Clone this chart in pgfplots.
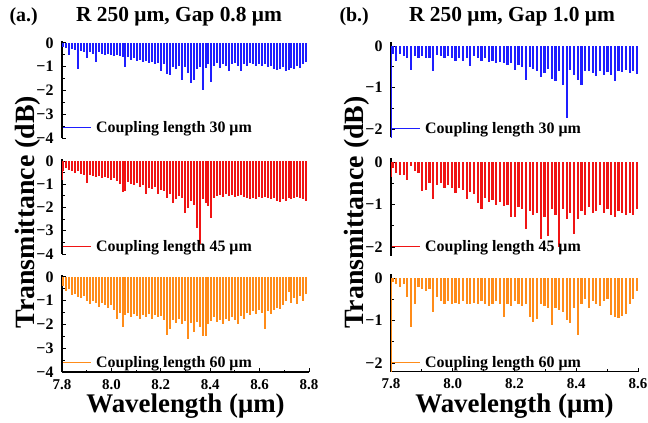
\documentclass[border=0pt]{standalone}
\usepackage{fontspec}
\setmainfont{Liberation Serif}
\usepackage{pgfplots}
\pgfplotsset{compat=1.18}
\definecolor{cblue}{RGB}{30,30,255}
\definecolor{cred}{RGB}{240,20,20}
\definecolor{corange}{RGB}{255,140,25}
\pgfplotsset{
  panel/.style={scale only axis, width=247bp, xmin=7.8,
    axis y line*=left,
    axis line style={line width=1.1bp, black},
    every tick/.style={black, line width=1bp},
    major tick length=4bp, minor tick length=2.5bp,
    minor y tick num=1,
    tick label style={font=\fontsize{15}{15}\selectfont\bfseries},
    yticklabel style={xshift=-5bp, font=\fontsize{16}{16}\selectfont\bfseries},
    legend style={draw=none, fill=none, inner xsep=0pt, inner ysep=0pt,
      anchor=west, font=\fontsize{16}{16}\selectfont\bfseries,
      /tikz/every odd column/.append style={column sep=3bp}},
    legend cell align=left,
  },
  leftp/.style={panel, xmax=8.8, ymin=-4, ymax=0.1,
    ytick={-4,-3,-2,-1,0}, yticklabels={−4,−3,−2,−1,0}},
  rightp/.style={panel, xmax=8.6, ymin=-2.2, ymax=0.1,
    ytick={-2,-1,0}, yticklabels={−2,−1,0}},
  topp/.style={axis x line=none},
  botp/.style={axis x line*=bottom, minor x tick num=1,
    xticklabel style={yshift=-4bp},
    xlabel={Wavelength (μm)},
    xlabel style={font=\fontsize{27}{27}\selectfont\bfseries, at={(axis description cs:0.5,-0.35)}, anchor=center}},
  ylab/.style={ylabel={Transmittance (dB)},
    ylabel style={font=\fontsize{28}{28}\selectfont\bfseries, at={(axis description cs:-0.14,0.44)}, anchor=center}},
  comb/.style 2 args={ycomb, #1, line width=#2, no marks,
    legend image code/.code={\draw[#1,line width=1bp](0bp,0bp)--(28bp,0bp);}},
}
\begin{document}
\begin{tikzpicture}
\useasboundingbox (0,0) rectangle (648bp,-423bp);
\node[anchor=west, font=\fontsize{20}{20}\selectfont\bfseries] at (6bp,-17bp) {(a.)};
\node[font=\fontsize{21.5}{22}\selectfont\bfseries] at (179bp,-17bp) {R 250 μm, Gap 0.8 μm};
\node[anchor=west, font=\fontsize{20}{20}\selectfont\bfseries] at (336bp,-17bp) {(b.)};
\node[font=\fontsize{21.5}{22}\selectfont\bfseries] at (512bp,-17bp) {R 250 μm, Gap 1.0 μm};

% ---------- top left ----------
\begin{axis}[leftp, topp, at={(62bp,-40.6bp)}, anchor=north west, height=97.4bp,
  legend style={at={(0,0.105)}}]
\addplot[comb={cblue}{2bp}]
table[row sep=\\]{
x y\\
7.805 -0.15\\7.817 -0.2\\7.829 -0.5\\7.841 -0.25\\7.853 -0.3\\7.865 -1.1\\7.877 -0.35\\7.889 -0.4\\7.901 -0.65\\7.913 -0.4\\
7.925 -0.45\\7.937 -0.8\\7.949 -0.4\\7.961 -0.45\\7.973 -0.5\\7.985 -0.45\\7.997 -0.5\\8.009 -0.55\\8.021 -0.5\\8.033 -0.55\\
8.045 -0.6\\8.057 -1.02\\8.069 -0.6\\8.081 -0.7\\8.093 -0.65\\8.105 -0.75\\8.117 -0.7\\8.129 -0.8\\8.141 -0.75\\8.153 -0.85\\
8.165 -0.8\\8.177 -0.9\\8.189 -0.85\\8.201 -1.2\\8.213 -0.9\\8.225 -1.3\\8.237 -1.36\\8.249 -1.0\\8.261 -1.1\\8.273 -0.95\\
8.285 -1.55\\8.297 -1.0\\8.309 -1.27\\8.321 -1.68\\8.333 -1.54\\8.345 -1.1\\8.357 -1.0\\8.369 -1.96\\8.381 -1.05\\8.393 -0.9\\
8.405 -1.64\\8.417 -0.95\\8.429 -0.85\\8.441 -1.05\\8.453 -0.9\\8.465 -0.95\\8.477 -1.19\\8.489 -0.9\\8.501 -0.85\\8.513 -0.95\\
8.525 -1.19\\8.537 -0.9\\8.549 -0.95\\8.561 -0.85\\8.573 -0.9\\8.585 -0.95\\8.597 -0.9\\8.609 -0.95\\8.621 -0.9\\8.633 -1.0\\
8.645 -0.95\\8.657 -1.1\\8.669 -1.15\\8.681 -1.1\\8.693 -1.0\\8.705 -1.2\\8.717 -1.15\\8.729 -1.05\\8.741 -1.1\\8.753 -0.95\\
8.765 -1.05\\8.777 -0.9\\8.789 -0.8\\
};
\addlegendentry{Coupling length 30 μm}
\end{axis}

% ---------- middle left ----------
\begin{axis}[leftp, topp, ylab, at={(62bp,-158.7bp)}, anchor=north west, height=95.3bp,
  legend style={at={(0,0.076)}}]
\addplot[comb={cred}{2bp}]
table[row sep=\\]{
x y\\
7.801 -0.8\\
7.805 -0.45\\7.817 -0.3\\7.829 -0.4\\7.841 -0.45\\7.853 -0.5\\7.865 -0.45\\7.877 -0.55\\7.889 -0.6\\7.901 -0.93\\7.913 -0.6\\
7.925 -0.65\\7.937 -0.7\\7.949 -0.65\\7.961 -0.75\\7.973 -0.7\\7.985 -0.75\\7.997 -0.8\\8.009 -0.75\\8.021 -0.85\\8.033 -1.0\\
8.045 -1.33\\8.057 -1.3\\8.069 -0.9\\8.081 -1.0\\8.093 -1.05\\8.105 -0.95\\8.117 -1.1\\8.129 -1.05\\8.141 -1.43\\8.153 -1.15\\
8.165 -1.2\\8.177 -1.1\\8.189 -1.43\\8.201 -1.25\\8.213 -1.3\\8.225 -1.58\\8.237 -1.4\\8.249 -1.79\\8.261 -1.65\\8.273 -1.5\\
8.285 -1.6\\8.297 -2.22\\8.309 -2.0\\8.321 -1.7\\8.333 -1.9\\8.345 -2.87\\8.357 -3.55\\8.369 -1.65\\8.381 -1.8\\8.393 -1.95\\
8.405 -2.44\\8.417 -1.6\\8.429 -1.5\\8.441 -1.45\\8.453 -1.55\\8.465 -1.4\\8.477 -1.5\\8.489 -1.45\\8.501 -1.55\\8.513 -1.5\\
8.525 -1.45\\8.537 -1.55\\8.549 -1.6\\8.561 -1.65\\8.573 -1.6\\8.585 -1.65\\8.597 -1.55\\8.609 -1.6\\8.621 -1.55\\8.633 -1.6\\
8.645 -1.65\\8.657 -1.6\\8.669 -1.7\\8.681 -1.75\\8.693 -1.65\\8.705 -1.7\\8.717 -1.6\\8.729 -1.65\\8.741 -1.6\\8.753 -1.55\\
8.765 -1.6\\8.777 -1.65\\8.789 -1.7\\
};
\addlegendentry{Coupling length 45 μm}
\end{axis}

% ---------- bottom left ----------
\begin{axis}[leftp, botp, at={(62bp,-274.6bp)}, anchor=north west, height=97.4bp,
  xtick={7.8,8.0,8.2,8.4,8.6,8.8}, xticklabels={7.8,8.0,8.2,8.4,8.6,8.8},
  legend style={at={(0,0.095)}}]
\addplot[comb={corange}{2bp}]
table[row sep=\\]{
x y\\
7.805 -0.4\\7.817 -0.6\\7.829 -0.5\\7.841 -0.75\\7.853 -0.7\\7.865 -0.85\\7.877 -0.9\\7.889 -0.8\\7.901 -1.0\\7.913 -1.15\\
7.925 -1.0\\7.937 -1.1\\7.949 -1.25\\7.961 -1.1\\7.973 -1.2\\7.985 -1.3\\7.997 -1.2\\8.009 -1.4\\8.021 -1.75\\8.033 -1.5\\
8.045 -2.1\\8.057 -1.6\\8.069 -1.5\\8.081 -1.7\\8.093 -1.55\\8.105 -1.65\\8.117 -1.75\\8.129 -1.6\\8.141 -1.7\\8.153 -1.55\\
8.165 -1.75\\8.177 -1.6\\8.189 -1.7\\8.201 -1.65\\8.213 -1.8\\8.225 -2.46\\8.237 -2.18\\8.249 -1.8\\8.261 -1.95\\8.273 -1.75\\
8.285 -2.0\\8.297 -1.85\\8.309 -2.6\\8.321 -1.95\\8.333 -2.3\\8.345 -1.9\\8.357 -2.1\\8.369 -2.5\\8.381 -2.5\\8.393 -2.0\\
8.405 -1.85\\8.417 -1.7\\8.429 -1.9\\8.441 -1.8\\8.453 -2.0\\8.465 -1.75\\8.477 -1.85\\8.489 -1.7\\8.501 -1.8\\8.513 -2.0\\
8.525 -1.65\\8.537 -1.75\\8.549 -1.5\\8.561 -1.6\\8.573 -1.45\\8.585 -1.55\\8.597 -1.4\\8.609 -1.5\\8.621 -2.2\\8.633 -1.45\\
8.645 -1.55\\8.657 -1.4\\8.669 -1.3\\8.681 -1.35\\8.693 -1.2\\8.705 -1.0\\8.717 -0.65\\8.729 -1.1\\8.741 -0.9\\8.753 -1.15\\
8.765 -0.8\\8.777 -1.0\\8.789 -0.7\\
};
\addlegendentry{Coupling length 60 μm}
\end{axis}

% ---------- top right ----------
\begin{axis}[rightp, topp, at={(391bp,-41.85bp)}, anchor=north west, height=95.45bp,
  legend style={at={(0,0.087)}}]
\addplot[comb={cblue}{2.2bp}]
table[row sep=\\]{
x y\\
7.801 -2.5\\
7.805 -0.2\\7.817 -0.37\\7.829 -0.2\\7.841 -0.25\\7.853 -0.3\\7.865 -0.57\\7.877 -0.25\\7.889 -0.3\\7.901 -0.25\\7.913 -0.3\\
7.925 -0.28\\7.937 -0.61\\7.949 -0.22\\7.961 -0.25\\7.973 -0.3\\7.985 -0.25\\7.997 -0.3\\8.009 -0.35\\8.021 -0.3\\8.033 -0.35\\
8.045 -0.3\\8.057 -0.49\\8.069 -0.25\\8.081 -0.3\\8.093 -0.35\\8.105 -0.3\\8.117 -0.38\\8.129 -0.35\\8.141 -0.4\\8.153 -0.38\\
8.165 -0.42\\8.177 -0.45\\8.189 -0.4\\8.201 -0.57\\8.213 -0.45\\8.225 -0.5\\8.237 -0.83\\8.249 -0.5\\8.261 -0.55\\8.273 -0.6\\
8.285 -0.75\\8.297 -0.65\\8.309 -0.55\\8.321 -0.8\\8.333 -0.84\\8.345 -0.6\\8.357 -0.93\\8.369 -1.73\\8.381 -0.57\\8.393 -0.7\\
8.405 -0.83\\8.417 -0.93\\8.429 -0.6\\8.441 -0.61\\8.453 -0.65\\8.465 -0.73\\8.477 -0.6\\8.489 -0.69\\8.501 -0.62\\8.513 -0.7\\
8.525 -0.84\\8.537 -0.6\\8.549 -0.62\\8.561 -0.58\\8.573 -0.65\\8.585 -0.6\\8.597 -0.67\\
};
\addlegendentry{Coupling length 30 μm}
\end{axis}

% ---------- middle right ----------
\begin{axis}[rightp, topp, ylab, at={(391bp,-157.75bp)}, anchor=north west, height=97.75bp,
  legend style={at={(0,0.087)}}]
\addplot[comb={cred}{2.2bp}]
table[row sep=\\]{
x y\\
7.801 -0.35\\
7.805 -0.15\\7.817 -0.25\\7.829 -0.3\\7.841 -0.3\\7.853 -0.42\\7.865 -0.1\\7.877 -0.2\\7.889 -0.25\\7.901 -0.68\\7.913 -0.65\\
7.925 -0.5\\7.937 -0.86\\7.949 -0.55\\7.961 -0.5\\7.973 -0.6\\7.985 -0.55\\7.997 -0.62\\8.009 -0.72\\8.021 -0.6\\8.033 -0.65\\
8.045 -0.86\\8.057 -0.7\\8.069 -0.75\\8.081 -0.96\\8.093 -1.11\\8.105 -0.85\\8.117 -0.95\\8.129 -0.9\\8.141 -1.0\\8.153 -0.95\\
8.165 -1.04\\8.177 -1.0\\8.189 -1.29\\8.201 -1.3\\8.213 -1.05\\8.225 -1.1\\8.237 -1.57\\8.249 -1.15\\8.261 -1.25\\8.273 -1.2\\
8.285 -1.8\\8.297 -1.3\\8.309 -1.75\\8.321 -1.1\\8.333 -1.25\\8.345 -2.0\\8.357 -1.1\\8.369 -1.35\\8.381 -1.2\\8.393 -1.7\\
8.405 -1.35\\8.417 -1.15\\8.429 -1.25\\8.441 -1.05\\8.453 -1.2\\8.465 -1.15\\8.477 -1.0\\8.489 -1.2\\8.501 -1.1\\8.513 -1.25\\
8.525 -1.3\\8.537 -1.15\\8.549 -1.2\\8.561 -1.25\\8.573 -1.2\\8.585 -1.25\\8.597 -1.1\\
};
\addlegendentry{Coupling length 45 μm}
\end{axis}

% ---------- bottom right ----------
\begin{axis}[rightp, botp, at={(391bp,-273.75bp)}, anchor=north west, height=97.75bp,
  xtick={7.8,8.0,8.2,8.4,8.6}, xticklabels={7.8,8.0,8.2,8.4,8.6},
  legend style={at={(0,0.087)}}]
\addplot[comb={corange}{2.2bp}]
table[row sep=\\]{
x y\\
7.801 -2.5\\
7.805 -0.1\\7.817 -0.15\\7.829 -0.2\\7.841 -0.15\\7.853 -0.45\\7.865 -1.15\\7.877 -0.6\\7.889 -0.2\\7.901 -0.25\\7.913 -0.3\\
7.925 -0.25\\7.937 -0.8\\7.949 -0.45\\7.961 -0.55\\7.973 -0.6\\7.985 -0.55\\7.997 -0.6\\8.009 -0.58\\8.021 -0.62\\8.033 -0.55\\
8.045 -0.6\\8.057 -0.62\\8.069 -0.58\\8.081 -0.6\\8.093 -0.55\\8.105 -0.6\\8.117 -0.65\\8.129 -0.6\\8.141 -0.55\\8.153 -0.6\\
8.165 -0.92\\8.177 -0.6\\8.189 -0.65\\8.201 -0.55\\8.213 -0.6\\8.225 -0.65\\8.237 -0.6\\8.249 -0.92\\8.261 -1.04\\8.273 -0.96\\
8.285 -0.6\\8.297 -0.65\\8.309 -0.7\\8.321 -1.11\\8.333 -0.7\\8.345 -0.75\\8.357 -0.8\\8.369 -0.98\\8.381 -1.06\\8.393 -0.7\\
8.405 -1.35\\8.417 -0.6\\8.429 -0.5\\8.441 -0.7\\8.453 -0.55\\8.465 -0.6\\8.477 -0.65\\8.489 -0.55\\8.501 -0.5\\8.513 -0.88\\
8.525 -0.92\\8.537 -0.95\\8.549 -0.9\\8.561 -0.85\\8.573 -0.62\\8.585 -0.5\\8.597 -0.3\\
};
\addlegendentry{Coupling length 60 μm}
\end{axis}
\end{tikzpicture}
\end{document}
